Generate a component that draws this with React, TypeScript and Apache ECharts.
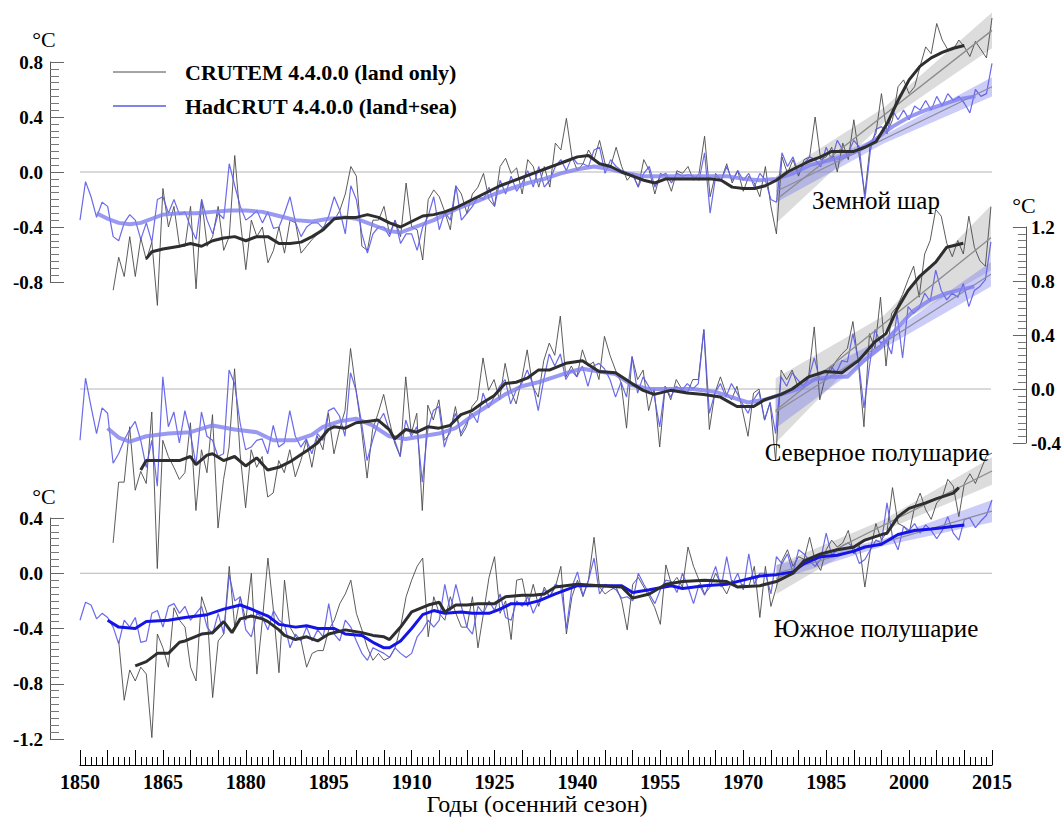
import React, { useEffect, useRef } from "react";
import * as echarts from "echarts";

// ---------- DATA ----------
const X_MIN = 1850;
const X_MAX = 2015;

// Global (Земной шар)
const globalCruStart = 1856;
const globalCru = [
  -0.86, -0.62, -0.76, -0.47,
  -0.76, -0.48, -0.64, -0.51, -0.97, -0.12, -0.40, -0.25, -0.54, -0.54,
  -0.25, -0.85, -0.20, -0.54, -0.47, -0.25, -0.57, -0.47, 0.12, -0.35,
  -0.71, -0.35, -0.47, -0.40, -0.66, -0.57, -0.40, -0.59, -0.35, -0.37,
  -0.59, -0.54, -0.49, -0.45, -0.40, -0.37, -0.35, -0.28, -0.16, 0.04,
  -0.03, -0.54, -0.57, -0.35, -0.35, -0.25, -0.45, -0.35, -0.47, -0.08,
  -0.40, -0.42, -0.64, -0.20, -0.13, -0.18, -0.29, -0.42, -0.10, -0.16,
  -0.30, -0.16, -0.11, -0.01, -0.20, -0.25, 0.04, 0.10, -0.01, 0.03,
  -0.16, 0.09, 0.04, -0.11, 0.04, -0.11, 0.21, 0.16, 0.39, 0.11,
  0.01, 0.06, 0.16, 0.09, 0.23, 0.06, 0.04, 0.18, 0.04, -0.06,
  -0.01, -0.11, 0.09, 0.01, -0.16, -0.01, -0.03, -0.14, 0.01, -0.01,
  0.04, -0.06, -0.01, 0.26, -0.18, -0.01, -0.06, 0.06, -0.08, 0.01,
  -0.14, -0.03, -0.08, -0.18, 0.04, -0.25, -0.45, 0.11, -0.01, 0.09,
  -0.03, 0.09, 0.11, 0.40, 0.09, 0.11, 0.18, 0.0, 0.21, 0.09,
  0.38, 0.11, -0.16, 0.21, 0.28, 0.57, 0.28, 0.38, 0.62, 0.67,
  0.57, 0.62, 0.77, 0.91, 0.86, 1.08, 0.96, 0.89, 0.89, 0.96,
  0.91, 0.84, 0.95, 0.89, 0.83, 1.12,
];
const globalHadStart = 1850;
const globalHad = [
  -0.35, -0.07, -0.18, -0.33, -0.22, -0.25, -0.47, -0.50, -0.37, -0.31,
  -0.35, -0.49, -0.37, -0.51, -0.20, -0.18, -0.30, -0.20, -0.31, -0.29,
  -0.40, -0.49, -0.20, -0.35, -0.45, -0.30, -0.34, 0.06, -0.10, -0.25,
  -0.35, -0.32, -0.28, -0.37, -0.29, -0.41, -0.40, -0.30, -0.18, -0.37,
  -0.47, -0.40, -0.37, -0.37, -0.41, -0.32, -0.18, -0.28, -0.45, -0.10,
  -0.20, -0.45, -0.59, -0.45, -0.40, -0.40, -0.47, -0.35, -0.52, -0.45,
  -0.45, -0.57, -0.40, -0.32, -0.18, -0.42, -0.29, -0.35, -0.10, -0.35,
  -0.30, -0.25, -0.18, -0.20, -0.11, -0.25, -0.06, -0.16, -0.03, -0.14,
  -0.08, 0.01, -0.11, 0.04, -0.11, -0.06, 0.04, 0.09, 0.01, 0.11,
  0.06, 0.06, 0.04, 0.16, 0.18, -0.01, 0.09, 0.04, 0.01, -0.01,
  -0.02, -0.11, -0.01, 0.04, -0.11, -0.03, -0.01, -0.08, -0.01, -0.03,
  -0.02, -0.03, -0.06, 0.14, -0.30, -0.03, -0.06, 0.04, -0.06, 0.01,
  -0.06, -0.01, -0.11, -0.01, -0.06, -0.20, -0.22, 0.14, 0.04, 0.11,
  -0.01, 0.06, 0.11, 0.09, 0.04, 0.18, 0.09, 0.23, 0.16, 0.14,
  0.23, 0.18, -0.20, 0.16, 0.31, 0.33, 0.28, 0.45, 0.38, 0.45,
  0.38, 0.48, 0.45, 0.52, 0.45, 0.55, 0.48, 0.57, 0.52, 0.55,
  0.50, 0.43, 0.60, 0.55, 0.57, 0.79,
];
const globalCruSmooth = [
  [1862, -0.63], [1863, -0.58], [1865, -0.56], [1868, -0.54], [1870, -0.52], [1872, -0.54],
  [1874, -0.5], [1876, -0.48], [1878, -0.47], [1880, -0.5], [1882, -0.47], [1884, -0.47],
  [1886, -0.52], [1888, -0.52], [1890, -0.51], [1892, -0.47], [1894, -0.42], [1896, -0.34],
  [1898, -0.33], [1900, -0.33], [1902, -0.31], [1904, -0.33], [1906, -0.37], [1908, -0.4],
  [1910, -0.36], [1912, -0.32], [1914, -0.31], [1916, -0.29], [1918, -0.26], [1920, -0.22],
  [1922, -0.18], [1924, -0.14], [1926, -0.1], [1928, -0.07], [1930, -0.04], [1932, -0.01],
  [1934, 0.02], [1936, 0.05], [1938, 0.08], [1940, 0.11], [1942, 0.12], [1944, 0.06],
  [1946, 0.04], [1948, 0.0], [1950, -0.03], [1952, -0.06], [1954, -0.08], [1956, -0.05],
  [1958, -0.05], [1960, -0.05], [1962, -0.05], [1964, -0.05], [1966, -0.06], [1968, -0.11],
  [1970, -0.12], [1972, -0.12], [1974, -0.1], [1976, -0.06], [1978, 0.0], [1980, 0.04],
  [1982, 0.08], [1984, 0.11], [1986, 0.15], [1988, 0.15], [1990, 0.15], [1992, 0.18],
  [1994, 0.22], [1996, 0.35], [1998, 0.52], [2000, 0.67], [2002, 0.77], [2004, 0.83],
  [2006, 0.87], [2008, 0.9], [2010, 0.92],
];
const globalHadSmooth = [
  [1853, -0.3], [1855, -0.34], [1857, -0.37], [1859, -0.38], [1861, -0.37], [1863, -0.34],
  [1865, -0.31], [1868, -0.3], [1871, -0.3], [1874, -0.29], [1877, -0.28], [1880, -0.28],
  [1883, -0.29], [1886, -0.32], [1889, -0.35], [1892, -0.36], [1895, -0.34], [1898, -0.33],
  [1900, -0.34], [1902, -0.37], [1904, -0.4], [1906, -0.43], [1908, -0.44], [1910, -0.41],
  [1912, -0.38], [1914, -0.35], [1916, -0.31], [1918, -0.27], [1920, -0.24], [1922, -0.21],
  [1925, -0.16], [1928, -0.12], [1931, -0.08], [1934, -0.05], [1937, -0.01], [1940, 0.02],
  [1943, 0.04], [1946, 0.02], [1949, -0.01], [1952, -0.03], [1955, -0.03], [1958, -0.03],
  [1961, -0.03], [1964, -0.03], [1967, -0.03], [1970, -0.05], [1973, -0.06], [1976, -0.05],
  [1979, -0.01], [1982, 0.05], [1985, 0.08], [1988, 0.11], [1991, 0.16], [1994, 0.24],
  [1997, 0.33], [2000, 0.4], [2003, 0.45], [2006, 0.49], [2009, 0.53], [2012, 0.55],
];

// Northern hemisphere (Северное полушарие)
const nhCruStart = 1856;
const nhCru = [
  -1.14, -0.69, -0.69, -0.28,
  -0.75, -0.61, -0.70, -0.17, -1.33, -0.38, -0.50, -0.58, -0.67, -0.62,
  -0.25, -0.90, -0.45, -0.62, -0.19, -1.03, -0.67, -0.43, 0.15, -0.48,
  -0.88, -0.45, -0.58, -0.50, -0.80, -0.77, -0.53, -0.62, -0.45, -0.65,
  -0.53, -0.38, -0.58, -0.35, -0.45, -0.18, -0.48, -0.30, -0.16, 0.30,
  -0.01, -0.30, -0.66, -0.30, -0.18, -0.04, -0.23, -0.40, -0.50, 0.09,
  -0.33, -0.18, -0.90, -0.12, -0.23, -0.08, -0.38, -0.33, -0.13, -0.35,
  -0.28, -0.13, -0.08, 0.23, -0.01, 0.07, -0.08, 0.19, -0.01, -0.11,
  0.07, 0.29, 0.02, -0.06, 0.21, 0.34, 0.25, 0.54, 0.09, 0.17,
  0.09, 0.29, 0.17, 0.20, 0.07, 0.39, 0.25, 0.14, 0.05, -0.29,
  0.24, 0.07, 0.14, -0.16, 0.0, -0.43, 0.02, -0.08, 0.07, 0.0,
  -0.03, 0.07, 0.07, 0.44, -0.30, -0.03, 0.09, -0.03, -0.08, 0.02,
  -0.16, -0.35, -0.03, 0.0, -0.23, -0.10, -0.53, 0.14, 0.07, 0.14,
  0.02, 0.07, 0.10, 0.46, -0.08, 0.09, 0.14, 0.21, 0.26, 0.30,
  0.50, 0.19, -0.28, 0.41, 0.30, 0.68, 0.17, 0.56, 0.61, 0.70,
  0.81, 0.91, 0.68, 1.00, 1.10, 1.33, 1.28, 1.08, 0.98, 1.10,
  1.00, 1.28, 1.05, 0.95, 0.91, 1.35,
];
const nhHadStart = 1850;
const nhHad = [
  -0.38, 0.08, -0.13, -0.33, -0.14, -0.18, -0.55, -0.48, -0.38, -0.30,
  -0.24, -0.38, -0.58, -0.38, -0.72, 0.09, -0.28, -0.17, -0.40, -0.16,
  -0.33, -0.56, -0.17, -0.35, -0.38, -0.50, -0.48, 0.14, 0.04, -0.25,
  -0.45, -0.43, -0.38, -0.37, -0.48, -0.27, -0.43, -0.40, -0.16, -0.35,
  -0.43, -0.37, -0.48, -0.33, -0.38, -0.16, -0.14, -0.20, -0.35, 0.12,
  -0.01, -0.25, -0.53, -0.38, -0.25, -0.18, -0.30, -0.38, -0.50, -0.23,
  -0.35, -0.28, -0.69, -0.30, -0.16, -0.13, -0.43, -0.30, -0.18, -0.33,
  -0.25, -0.18, -0.25, -0.03, -0.14, -0.06, 0.02, 0.07, -0.11, -0.01,
  0.04, 0.14, 0.04, -0.16, 0.07, 0.26, 0.17, 0.26, 0.07, 0.14,
  0.09, 0.17, 0.02, 0.17, 0.19, 0.15, 0.07, -0.06, 0.05, -0.06,
  0.24, -0.03, 0.09, 0.02, -0.05, -0.28, 0.02, -0.06, 0.02, -0.01,
  0.04, 0.0, 0.04, 0.44, -0.18, -0.03, 0.04, -0.06, 0.04, -0.03,
  -0.11, -0.18, -0.08, -0.02, -0.23, -0.10, -0.33, 0.09, 0.02, 0.12,
  0.07, 0.02, 0.08, 0.23, 0.07, 0.07, 0.17, 0.12, 0.21, 0.20,
  0.41, 0.21, -0.14, 0.17, 0.44, 0.34, 0.36, 0.26, 0.56, 0.23,
  0.61, 0.56, 0.60, 0.71, 0.65, 0.88, 0.73, 0.66, 0.71, 0.68,
  0.78, 0.61, 0.73, 0.76, 0.81, 1.09,
];
const nhCruSmooth = [
  [1861, -0.6], [1862, -0.53], [1864, -0.53], [1866, -0.53], [1868, -0.53], [1870, -0.5],
  [1871, -0.56], [1873, -0.49], [1874, -0.48], [1876, -0.53], [1878, -0.5], [1880, -0.57],
  [1882, -0.51], [1884, -0.6], [1886, -0.58], [1888, -0.54], [1891, -0.46], [1893, -0.4],
  [1895, -0.3], [1896, -0.28], [1898, -0.29], [1900, -0.25], [1902, -0.24], [1904, -0.23],
  [1906, -0.3], [1907, -0.37], [1909, -0.3], [1911, -0.32], [1913, -0.28], [1915, -0.29],
  [1917, -0.27], [1919, -0.19], [1921, -0.16], [1923, -0.1], [1925, -0.05], [1927, 0.04],
  [1929, 0.05], [1931, 0.08], [1933, 0.14], [1935, 0.14], [1938, 0.19], [1941, 0.21],
  [1944, 0.13], [1947, 0.12], [1950, 0.04], [1952, -0.01], [1954, -0.04], [1957, -0.01],
  [1960, -0.03], [1963, -0.04], [1966, -0.06], [1969, -0.13], [1972, -0.13], [1974, -0.08],
  [1977, -0.04], [1979, 0.0], [1982, 0.09], [1985, 0.13], [1988, 0.12], [1991, 0.21],
  [1994, 0.35], [1996, 0.41], [1998, 0.59], [2000, 0.73], [2002, 0.83], [2005, 0.94],
  [2007, 1.05], [2010, 1.08],
];
const nhHadSmooth = [
  [1855, -0.29], [1857, -0.36], [1859, -0.39], [1862, -0.35], [1866, -0.33], [1870, -0.32],
  [1874, -0.27], [1878, -0.3], [1882, -0.32], [1885, -0.38], [1889, -0.38], [1892, -0.34],
  [1894, -0.28], [1897, -0.24], [1900, -0.22], [1903, -0.27], [1906, -0.35], [1909, -0.37],
  [1912, -0.35], [1915, -0.33], [1918, -0.29], [1921, -0.2], [1924, -0.12], [1927, -0.04],
  [1930, 0.02], [1933, 0.05], [1936, 0.09], [1939, 0.13], [1941, 0.15], [1944, 0.13],
  [1947, 0.11], [1950, 0.03], [1953, 0.0], [1957, 0.0], [1961, 0.0], [1965, -0.02],
  [1968, -0.06], [1971, -0.1], [1974, -0.08], [1977, -0.04], [1980, 0.0], [1983, 0.07],
  [1986, 0.09], [1989, 0.09], [1992, 0.21], [1995, 0.31], [1998, 0.45], [2001, 0.58],
  [2004, 0.66], [2007, 0.71], [2010, 0.74], [2012, 0.76],
];

// Southern hemisphere (Южное полушарие)
const shCruStart = 1857;
const shCru = [
  -0.49, -0.92, -0.70,
  -0.78, -0.68, -0.73, -1.19, -0.44, -0.54, -0.68, -0.25, -0.34, -0.39,
  -0.68, -0.78, -0.17, -0.29, -0.90, -0.49, -0.44, 0.05, -0.39, -0.17,
  -0.34, 0.0, -0.73, -0.34, 0.11, -0.27, -0.72, -0.05, -0.39, -0.46,
  -0.49, -0.68, -0.58, -0.56, -0.56, -0.41, -0.34, -0.22, -0.15, -0.05,
  -0.29, -0.41, -0.54, -0.63, -0.58, -0.63, -0.61, -0.54, -0.39, -0.17,
  -0.05, 0.05, 0.11, -0.46, -0.17, -0.29, -0.34, -0.17, -0.29, -0.39,
  -0.39, -0.17, -0.54, -0.29, -0.03, 0.12, -0.29, -0.20, -0.48, -0.05,
  -0.04, -0.24, -0.08, -0.24, -0.10, -0.17, -0.10, 0.05, -0.44, -0.17,
  -0.05, -0.17, -0.05, 0.26, -0.10, -0.15, -0.12, -0.10, -0.20, -0.41,
  -0.08, -0.03, -0.10, -0.17, -0.25, -0.37, 0.06, -0.08, -0.03, -0.10,
  0.19, 0.05, -0.05, -0.15, -0.10, 0.0, -0.08, -0.15, -0.05, -0.10,
  -0.08, -0.10, 0.05, -0.32, 0.05, -0.24, -0.10, 0.09, 0.17, 0.05,
  0.12, 0.10, 0.26, 0.09, 0.02, 0.17, 0.24, 0.19, 0.22, 0.31,
  0.14, 0.20, -0.10, 0.17, 0.36, 0.24, 0.30, 0.62, 0.36, 0.34,
  0.29, 0.48, 0.58, 0.46, 0.39, 0.51, 0.55, 0.68, 0.63, 0.41,
  0.65, 0.72, 0.65, 0.75, 0.85, 0.87,
];
const shHadStart = 1850;
const shHad = [
  -0.34, -0.21, -0.23, -0.33, -0.29, -0.32, -0.39, -0.51, -0.34, -0.39,
  -0.32, -0.50, -0.49, -0.29, -0.27, -0.39, -0.24, -0.22, -0.29, -0.24,
  -0.34, -0.29, -0.24, -0.39, -0.44, -0.29, -0.44, -0.01, -0.20, -0.17,
  -0.41, -0.46, -0.29, -0.32, -0.41, -0.27, -0.34, -0.37, -0.54, -0.44,
  -0.49, -0.39, -0.49, -0.41, -0.46, -0.22, -0.44, -0.49, -0.34, -0.39,
  -0.49, -0.58, -0.63, -0.54, -0.56, -0.58, -0.61, -0.54, -0.58, -0.61,
  -0.58, -0.46, -0.41, -0.34, -0.39, -0.34, -0.08, -0.27, -0.08, -0.24,
  -0.39, -0.44, -0.24, -0.29, -0.20, -0.27, -0.15, -0.32, -0.34, -0.20,
  -0.24, -0.17, -0.29, -0.20, -0.12, -0.17, -0.08, -0.10, -0.40, -0.10,
  0.01, -0.16, -0.05, 0.11, -0.15, -0.08, -0.10, -0.12, -0.18, -0.17,
  -0.20, 0.0, -0.08, -0.15, -0.22, -0.12, -0.05, -0.06, -0.14, 0.0,
  -0.10, -0.22, -0.08, -0.16, -0.06, 0.05, -0.10, 0.12, -0.08, 0.0,
  -0.12, 0.14, -0.08, 0.0, 0.0, -0.15, 0.12, 0.07, 0.14, 0.0,
  0.17, 0.14, 0.09, 0.05, 0.10, 0.29, 0.13, 0.17, 0.20, 0.22,
  0.18, 0.07, 0.10, 0.17, 0.24, 0.22, 0.51, 0.26, 0.17, 0.34,
  0.31, 0.36, 0.29, 0.35, 0.31, 0.25, 0.31, 0.41, 0.29, 0.24,
  0.39, 0.40, 0.33, 0.38, 0.42, 0.53,
];
const shCruSmooth = [
  [1860, -0.67], [1862, -0.64], [1864, -0.58], [1866, -0.58], [1868, -0.5], [1869, -0.49],
  [1872, -0.44], [1874, -0.43], [1876, -0.35], [1877.5, -0.43], [1879, -0.33], [1881, -0.31],
  [1883, -0.33], [1884, -0.35], [1886, -0.41], [1887, -0.45], [1889, -0.48], [1891, -0.46],
  [1893, -0.49], [1895, -0.44], [1898, -0.41], [1901, -0.43], [1903, -0.45], [1905, -0.46],
  [1906, -0.48], [1908, -0.39], [1910, -0.28], [1913, -0.23], [1915, -0.21], [1916, -0.28],
  [1918, -0.23], [1920, -0.23], [1922, -0.22], [1925, -0.22], [1927, -0.17], [1930, -0.16],
  [1932, -0.16], [1934, -0.15], [1936, -0.1], [1940, -0.08], [1944, -0.09], [1948, -0.1],
  [1950, -0.18], [1953, -0.15], [1956, -0.08], [1959, -0.06], [1963, -0.05], [1967, -0.06],
  [1969, -0.1], [1973, -0.09], [1976, -0.06], [1979, 0.0], [1981, 0.09], [1984, 0.14],
  [1987, 0.17], [1990, 0.19], [1992, 0.24], [1995, 0.28], [1996, 0.29], [1998, 0.41],
  [2000, 0.47], [2003, 0.51], [2005, 0.54], [2008, 0.58], [2009, 0.62],
];
const shHadSmooth = [
  [1855, -0.34], [1857, -0.39], [1860, -0.4], [1862, -0.35], [1866, -0.34], [1869, -0.32],
  [1873, -0.3], [1876, -0.26], [1879, -0.23], [1881, -0.26], [1884, -0.31], [1886, -0.37],
  [1889, -0.39], [1891, -0.38], [1893, -0.4], [1896, -0.4], [1898, -0.44], [1901, -0.45],
  [1903, -0.5], [1905, -0.54], [1906, -0.54], [1908, -0.49], [1910, -0.4], [1912, -0.3],
  [1914, -0.27], [1916, -0.29], [1919, -0.28], [1921, -0.29], [1924, -0.29], [1926, -0.26],
  [1928, -0.22], [1931, -0.22], [1933, -0.2], [1936, -0.15], [1940, -0.09], [1944, -0.09],
  [1948, -0.09], [1950, -0.14], [1953, -0.12], [1957, -0.09], [1959, -0.11], [1963, -0.09],
  [1967, -0.08], [1970, -0.05], [1973, -0.02], [1976, -0.01], [1979, 0.01], [1981, 0.07],
  [1984, 0.12], [1987, 0.13], [1990, 0.16], [1992, 0.19], [1995, 0.21], [1998, 0.28],
  [2001, 0.31], [2004, 0.32], [2006, 0.33], [2010, 0.35],
];

// Linear trends 1976–2015 and their confidence bands
const trendYears = [1976, 2015];
const bandYears = [1976, 1995.5, 2015];
const globalCruTrend = [-0.2, 1.03];
const globalCruBandUp = [-0.03, 0.47, 1.16];
const globalCruBandLo = [-0.37, 0.36, 0.9];
const globalHadTrend = [-0.14, 0.62];
const globalHadBandUp = [-0.05, 0.27, 0.69];
const globalHadBandLo = [-0.22, 0.21, 0.55];
const nhCruTrend = [-0.16, 1.12];
const nhCruBandUp = [0.08, 0.54, 1.36];
const nhCruBandLo = [-0.4, 0.42, 0.88];
const nhHadTrend = [-0.17, 0.85];
const nhHadBandUp = [-0.05, 0.38, 0.94];
const nhHadBandLo = [-0.29, 0.3, 0.76];
const shCruTrend = [-0.04, 0.74];
const shCruBandUp = [0.06, 0.39, 0.84];
const shCruBandLo = [-0.15, 0.31, 0.64];
const shHadTrend = [0.0, 0.45];
const shHadBandUp = [0.06, 0.25, 0.53];
const shHadBandLo = [-0.05, 0.2, 0.37];

// Axis ranges / ticks
const yRanges = [
  { min: -0.8, max: 0.8 },
  { min: -0.4, max: 1.2 },
  { min: -1.2, max: 0.4 },
];
const Y_INTERVAL = 0.4;
const X_INTERVAL = 5;
const X_LABEL_STEP = 15;

// ---------- HELPERS ----------
const toPairs = (start: number, arr: number[]) => arr.map((v, i) => [start + i, v]);
const pairsFrom = (xs: number[], ys: number[]) => xs.map((x, i) => [x, ys[i]]);

const SERIF = '"Liberation Serif", "Times New Roman", serif';
const C_CRU = "#4a4a4a";
const C_HAD = "#5a5ae8";
const C_CRU_S = "#2e2e2e";
const C_HAD_S = "#8080ef";
const C_HAD_S_SH = "#1414e6";

function lineS(g: number, data: any[], color: string, width: number, z: number, opacity = 1) {
  return {
    type: "line",
    xAxisIndex: g,
    yAxisIndex: g,
    data,
    symbol: "none",
    showSymbol: false,
    clip: false,
    silent: true,
    z,
    lineStyle: { color, width, opacity },
  };
}

function bandS(g: number, up: number[], lo: number[], fill: string) {
  return {
    type: "custom",
    xAxisIndex: g,
    yAxisIndex: g,
    data: [[bandYears[0], up[0]]],
    silent: true,
    clip: false,
    z: 2,
    renderItem: (_p: any, api: any) => {
      const pts: number[][] = [];
      for (let i = 0; i < bandYears.length; i++) pts.push(api.coord([bandYears[i], up[i]]));
      for (let i = bandYears.length - 1; i >= 0; i--) pts.push(api.coord([bandYears[i], lo[i]]));
      return { type: "polygon", shape: { points: pts }, style: { fill } };
    },
  };
}

function panelSeries(
  g: number,
  cruStart: number, cru: number[],
  hadStart: number, had: number[],
  cruSm: number[][], hadSm: number[][],
  cruTr: number[], hadTr: number[],
  cruUp: number[], cruLo: number[], hadUp: number[], hadLo: number[],
  hadSmColor: string, hadSmWidth: number, hadSmOpacity: number
) {
  return [
    lineS(g, [[X_MIN, 0], [X_MAX, 0]], "#b5b5b5", 1, 1),
    bandS(g, cruUp, cruLo, "rgba(150,150,150,0.33)"),
    bandS(g, hadUp, hadLo, "rgba(110,110,235,0.35)"),
    lineS(g, toPairs(cruStart, cru), C_CRU, 0.9, 3),
    lineS(g, toPairs(hadStart, had), C_HAD, 1.2, 4, 0.9),
    lineS(g, pairsFrom(trendYears, cruTr), "#8c8c8c", 1.3, 5),
    lineS(g, pairsFrom(trendYears, hadTr), "#8c8c9c", 1.3, 5),
    lineS(g, hadSm, hadSmColor, hadSmWidth, 6, hadSmOpacity),
    lineS(g, cruSm, C_CRU_S, 3, 7),
  ];
}

const yLabelFmt = (v: number) => (Math.abs(v) < 1e-9 ? "0.0" : v.toFixed(1));

export default function App() {
  const ref = useRef<HTMLDivElement>(null);

  useEffect(() => {
    if (!ref.current) return;
    const chart = echarts.init(ref.current, undefined, { renderer: "svg" });

    const grids = [
      { left: 80, right: 72, top: 62, height: 220 },
      { left: 80, right: 72, top: 227, height: 216 },
      { left: 80, right: 72, top: 518, height: 221 },
    ];

    const yAxisCommon = (i: number, pos: "left" | "right", offset: number, tickLen: number, minorLen: number) => ({
      type: "value",
      gridIndex: i,
      min: yRanges[i].min,
      max: yRanges[i].max,
      interval: Y_INTERVAL,
      position: pos,
      offset,
      splitLine: { show: false },
      axisLine: { show: true, onZero: false, lineStyle: { color: "#555", width: 1 } },
      axisTick: { show: true, inside: true, length: tickLen, lineStyle: { color: "#666", width: 1 } },
      minorTick: { show: true, splitNumber: 8, length: minorLen, lineStyle: { color: "#777", width: 1 } },
      minorSplitLine: { show: false },
      axisLabel: {
        show: true,
        margin: pos === "left" ? 7 : 5,
        formatter: yLabelFmt,
        color: "#000",
        fontFamily: SERIF,
        fontWeight: "bold",
        fontSize: 19,
      },
    });

    const option: any = {
      animation: false,
      backgroundColor: "#ffffff",
      grid: grids,
      xAxis: [
        { type: "value", gridIndex: 0, min: X_MIN, max: X_MAX, show: false },
        { type: "value", gridIndex: 1, min: X_MIN, max: X_MAX, show: false },
        {
          type: "value",
          gridIndex: 2,
          min: X_MIN,
          max: X_MAX,
          interval: X_INTERVAL,
          position: "bottom",
          offset: 26,
          splitLine: { show: false },
          axisLine: { show: true, onZero: false, lineStyle: { color: "#000", width: 1.2 } },
          axisTick: { show: true, inside: true, length: 15, lineStyle: { color: "#000", width: 1 } },
          minorTick: { show: true, splitNumber: 5, length: 8, lineStyle: { color: "#000", width: 1 } },
          axisLabel: {
            margin: 7,
            color: "#000",
            fontFamily: SERIF,
            fontWeight: "bold",
            fontSize: 20,
            showMinLabel: true,
            showMaxLabel: true,
            formatter: (v: number) => ((Math.round(v) - X_MIN) % X_LABEL_STEP === 0 ? String(Math.round(v)) : ""),
          },
        },
      ],
      yAxis: [
        yAxisCommon(0, "left", 30, 14, 9),
        yAxisCommon(1, "right", 35, 13, 8),
        yAxisCommon(2, "left", 30, 14, 9),
      ],
      series: [
        ...panelSeries(0, globalCruStart, globalCru, globalHadStart, globalHad, globalCruSmooth, globalHadSmooth,
          globalCruTrend, globalHadTrend, globalCruBandUp, globalCruBandLo, globalHadBandUp, globalHadBandLo,
          C_HAD_S, 4, 0.8),
        ...panelSeries(1, nhCruStart, nhCru, nhHadStart, nhHad, nhCruSmooth, nhHadSmooth,
          nhCruTrend, nhHadTrend, nhCruBandUp, nhCruBandLo, nhHadBandUp, nhHadBandLo,
          C_HAD_S, 4, 0.8),
        ...panelSeries(2, shCruStart, shCru, shHadStart, shHad, shCruSmooth, shHadSmooth,
          shCruTrend, shHadTrend, shCruBandUp, shCruBandLo, shHadBandUp, shHadBandLo,
          C_HAD_S_SH, 3, 1),
      ],
      graphic: [
        // legend
        { type: "line", z: 50, shape: { x1: 113, y1: 72, x2: 166, y2: 72 }, style: { stroke: C_CRU, lineWidth: 1 } },
        { type: "line", z: 50, shape: { x1: 113, y1: 106, x2: 166, y2: 106 }, style: { stroke: C_HAD, lineWidth: 1.5 } },
        {
          type: "text", z: 50, x: 185, y: 72,
          style: { text: "CRUTEM 4.4.0.0 (land only)", font: `bold 22px ${SERIF}`, fill: "#000",
            align: "left", textAlign: "left", verticalAlign: "middle", textVerticalAlign: "middle" },
        },
        {
          type: "text", z: 50, x: 185, y: 106,
          style: { text: "HadCRUT 4.4.0.0 (land+sea)", font: `bold 22px ${SERIF}`, fill: "#000",
            align: "left", textAlign: "left", verticalAlign: "middle", textVerticalAlign: "middle" },
        },
        // unit labels
        ...[
          { x: 44, y: 39 },
          { x: 44, y: 496 },
          { x: 1024, y: 205 },
        ].map((p) => ({
          type: "text", z: 50, x: p.x, y: p.y,
          style: { text: "°C", font: `22px ${SERIF}`, fill: "#000",
            align: "center", textAlign: "center", verticalAlign: "middle", textVerticalAlign: "middle" },
        })),
        // panel labels
        ...[
          { t: "Земной шар", x: 876, y: 200 },
          { t: "Северное полушарие", x: 877, y: 452 },
          { t: "Южное полушарие", x: 876, y: 628 },
        ].map((p) => ({
          type: "text", z: 50, x: p.x, y: p.y,
          style: { text: p.t, font: `25px ${SERIF}`, fill: "#000",
            align: "center", textAlign: "center", verticalAlign: "middle", textVerticalAlign: "middle" },
        })),
        // x-axis title
        {
          type: "text", z: 50, x: 537, y: 804,
          style: { text: "Годы (осенний сезон)", font: `24px ${SERIF}`, fill: "#000",
            align: "center", textAlign: "center", verticalAlign: "middle", textVerticalAlign: "middle" },
        },
      ],
    };

    chart.setOption(option);
    return () => chart.dispose();
  }, []);

  return (
    <div
      ref={ref}
      style={{ position: "fixed", left: 0, top: 0, width: 1064, height: 818, background: "#fff" }}
    />
  );
}
